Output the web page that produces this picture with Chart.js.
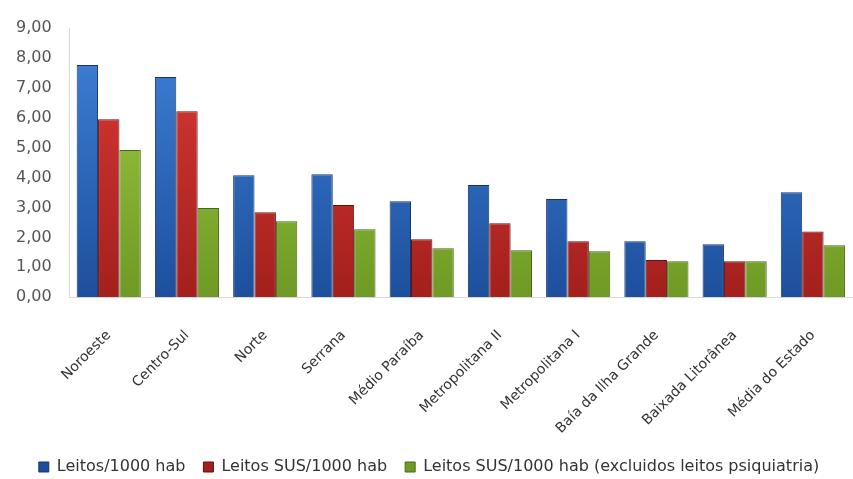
<!DOCTYPE html>
<html>
<head>
<meta charset="utf-8">
<script src="https://cdn.jsdelivr.net/npm/chart.js@4/dist/chart.umd.min.js"></script>
<style>
html,body{margin:0;padding:0;background:#fff;}
#wrap{width:853px;height:479px;position:relative;}
</style>
</head>
<body>
<div id="wrap"><canvas id="c"></canvas></div>
<script>
const categories = ["Noroeste","Centro-Sul","Norte","Serrana","Médio Paraíba","Metropolitana II","Metropolitana I","Baía da Ilha Grande","Baixada Litorânea","Média do Estado"];
const leitos = [7.76, 7.36, 4.08, 4.11, 3.21, 3.75, 3.28, 1.87, 1.77, 3.51];
const leitosSUS = [5.95, 6.22, 2.84, 3.08, 1.94, 2.47, 1.87, 1.24, 1.20, 2.20];
const leitosSUSsemPsiq = [4.92, 2.98, 2.54, 2.27, 1.64, 1.57, 1.54, 1.20, 1.20, 1.74];
const seriesNames = ["Leitos/1000 hab","Leitos SUS/1000 hab","Leitos SUS/1000 hab (excluidos leitos psiquiatria)"];
const yTicks = [0,1,2,3,4,5,6,7,8,9];

function grad(top, bottom){
  return function(ctx){
    const chart = ctx.chart;
    const a = chart.chartArea;
    if(!a) return bottom;
    const g = chart.ctx.createLinearGradient(0, a.top, 0, a.bottom);
    g.addColorStop(0, top);
    g.addColorStop(1, bottom);
    return g;
  };
}

const ds = (label, data, top, bottom, border) => ({
  label, data,
  backgroundColor: grad(top, bottom),
  borderColor: border,
  borderWidth: 1,
  borderSkipped: 'bottom',
  inflateAmount: 0,
  categoryPercentage: 0.82,
  barPercentage: 1.0
});

new Chart(document.getElementById('c'), {
  type: 'bar',
  data: {
    labels: categories,
    datasets: [
      ds(seriesNames[0], leitos, '#3f82d8', '#1d4f9c', '#17356a'),
      ds(seriesNames[1], leitosSUS, '#dc3a36', '#a3201d', '#5e1211'),
      ds(seriesNames[2], leitosSUSsemPsiq, '#a2cc44', '#6e9a25', '#4a661a')
    ]
  },
  options: {
    responsive: true,
    maintainAspectRatio: false,
    animation: false,
    layout: { padding: { top: 28, right: 1, left: 6, bottom: -6 } },
    plugins: {
      legend: {
        position: 'bottom',
        labels: {
          color: '#333',
          font: { family: 'DejaVu Sans', size: 16 },
          boxWidth: 10, boxHeight: 10,
          padding: 18
        }
      },
      tooltip: { enabled: false }
    },
    scales: {
      x: {
        grid: { display: false },
        border: { display: true, color: '#d9d9d9' },
        afterFit: (s) => { s.paddingLeft = 0; s.paddingRight = 0; s.height -= 18; },
        ticks: {
          color: '#333',
          padding: 22,
          font: { family: 'DejaVu Sans', size: 14 },
          maxRotation: 45, minRotation: 45,
          autoSkip: false
        }
      },
      y: {
        min: 0, max: 9,
        grid: { display: false },
        border: { display: true, color: '#d9d9d9' },
        afterBuildTicks: (axis) => { axis.ticks = yTicks.map(v => ({ value: v })); },
        ticks: {
          color: '#555',
          padding: 10,
          font: { family: 'DejaVu Sans', size: 16 },
          callback: (v) => Number(v).toFixed(2).replace('.', ',')
        }
      }
    }
  }
});
</script>
</body>
</html>
